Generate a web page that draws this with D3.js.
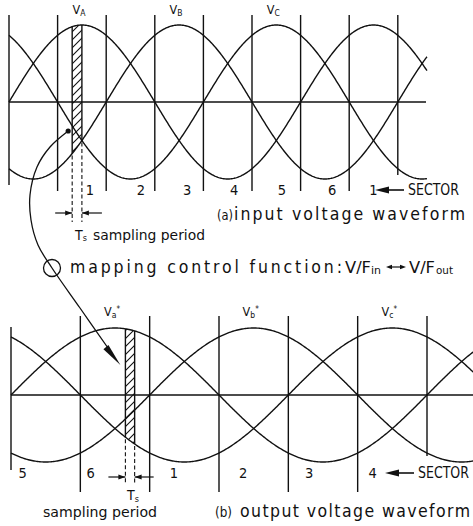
<!DOCTYPE html>
<html>
<head>
<meta charset="utf-8">
<script src="https://cdn.jsdelivr.net/npm/d3@7"></script>
<style>
  body { margin: 0; background: #fff; }
  svg { display: block; }
  text { font-family: "DejaVu Sans", sans-serif; font-stretch: condensed; fill: #111; }
</style>
</head>
<body>
<svg id="chart" width="473" height="526"></svg>
<script>
// ---- diagram data -------------------------------------------------------
// three-phase sets: label subscripts and phase lag in degrees
const inputPhases = ["A", "B", "C"];
const outputPhases = ["a", "b", "c"];
const phaseLag = [0, 120, 240];
// sector boundaries (electrical degrees)
const inputBoundaries = [0, 60, 120, 180, 240, 300, 360, 420, 480];
const outputBoundaries = [0, 60, 120, 180, 240, 300, 360];
// sector numbers and the angle where each sector starts
const inputSectors = ["1", "2", "3", "4", "5", "6", "1"];
const inputSectorStart = [60, 120, 180, 240, 300, 360, 420];
const outputSectors = ["5", "6", "1", "2", "3", "4"];
const outputSectorStart = [0, 60, 120, 180, 240, 300];
// sampling interval Ts on each waveform (degrees)
const inputSample = [78, 90];
const outputSample = [99, 107];
// visible angular span of each waveform
const inputSpan = [0, 516];
const outputSpan = [0, 406];

// ---- layout -------------------------------------------------------------
const svg = d3.select("#chart");
const ink = "#111";
const lw = 1.4;

const defs = svg.append("defs");
defs.append("pattern")
  .attr("id", "hatch")
  .attr("patternUnits", "userSpaceOnUse")
  .attr("width", 8).attr("height", 8)
  .append("path")
  .attr("d", "M-2,2 L2,-2 M0,8 L8,0 M6,10 L10,6")
  .attr("stroke", ink).attr("stroke-width", 1.1);

const phaseValue = (deg, lag) => Math.sin((deg - lag) * Math.PI / 180);

function arrowHead(g, tipX, tipY, dir, len, half) {
  // dir: +1 points right, -1 points left
  g.append("path")
    .attr("d", `M${tipX},${tipY} L${tipX - dir * len},${tipY - half} L${tipX - dir * len},${tipY + half} Z`)
    .attr("fill", ink);
}

function drawPanel(cfg) {
  const g = svg.append("g");
  const x = d3.scaleLinear().domain([0, 360]).range(cfg.xRange);
  const y = d3.scaleLinear().domain([-1, 1]).range(cfg.yRange);

  // zero axis
  g.append("line")
    .attr("x1", x(0)).attr("x2", cfg.axisEnd)
    .attr("y1", y(0)).attr("y2", y(0))
    .attr("stroke", ink).attr("stroke-width", lw);

  // sector boundaries
  cfg.boundaries.forEach((b, i) => {
    const ext = i === 0 ? cfg.firstExt : (i === cfg.boundaries.length - 1 ? cfg.lastExt : cfg.lineExt);
    g.append("line")
      .attr("x1", x(b)).attr("x2", x(b))
      .attr("y1", ext[0]).attr("y2", ext[1])
      .attr("stroke", ink).attr("stroke-width", lw);
  });

  // phase waveforms
  const angles = d3.range(cfg.span[0], cfg.span[1] + 0.001, 1);
  const line = d3.line().x(d => x(d[0])).y(d => y(d[1]));
  phaseLag.forEach(lag => {
    g.append("path")
      .attr("d", line(angles.map(a => [a, phaseValue(a, lag)])))
      .attr("fill", "none").attr("stroke", ink).attr("stroke-width", lw);
  });

  // hatched sample strip between upper and lower envelopes
  const sa = d3.range(cfg.sample[0], cfg.sample[1] + 0.001, 0.25);
  const hi = a => d3.max(phaseLag, l => phaseValue(a, l));
  const lo = a => d3.min(phaseLag, l => phaseValue(a, l));
  g.append("path")
    .attr("d", d3.area().x(a => x(a)).y0(a => y(lo(a))).y1(a => y(hi(a)))(sa))
    .attr("fill", "url(#hatch)");
  cfg.sample.forEach(a => {
    g.append("line")
      .attr("x1", x(a)).attr("x2", x(a))
      .attr("y1", y(hi(a))).attr("y2", y(lo(a)))
      .attr("stroke", ink).attr("stroke-width", lw);
    g.append("line")
      .attr("x1", x(a)).attr("x2", x(a))
      .attr("y1", y(lo(a)) + 2).attr("y2", cfg.dashEnd)
      .attr("stroke", ink).attr("stroke-width", 1.1)
      .attr("stroke-dasharray", "4,2.5");
  });

  // Ts dimension arrows
  const xa = x(cfg.sample[0]), xb = x(cfg.sample[1]);
  g.append("line").attr("x1", xa - 17).attr("x2", xa).attr("y1", cfg.arrowY).attr("y2", cfg.arrowY)
    .attr("stroke", ink).attr("stroke-width", 1.2);
  arrowHead(g, xa, cfg.arrowY, 1, 7, 2.5);
  g.append("line").attr("x1", xb + cfg.rightArrowLen).attr("x2", xb).attr("y1", cfg.arrowY).attr("y2", cfg.arrowY)
    .attr("stroke", ink).attr("stroke-width", 1.2);
  arrowHead(g, xb, cfg.arrowY, -1, 7, 2.5);

  // phase labels over each peak
  phaseLag.forEach((lag, i) => {
    const t = g.append("text")
      .attr("x", x(lag + 90) - 3).attr("y", cfg.labelY)
      .attr("text-anchor", "middle").attr("font-size", 12.5);
    t.append("tspan").text("V");
    t.append("tspan").attr("font-size", 8.5).attr("dy", 2).text(cfg.phases[i]);
    if (cfg.star) t.append("tspan").attr("font-size", 8).attr("dy", -6).text("*");
  });

  // sector numbers
  cfg.sectors.forEach((s, i) => {
    g.append("text")
      .attr("x", x(cfg.sectorStart[i] + cfg.sectorOffset[i]))
      .attr("y", cfg.sectorY)
      .attr("text-anchor", "middle").attr("font-size", 14.5)
      .text(s);
  });

  // "<- SECTOR" tag
  arrowHead(g, cfg.sectorArrow[0], cfg.sectorY - 5, -1, 14, 3.4);
  g.append("line")
    .attr("x1", cfg.sectorArrow[0] + 10).attr("x2", cfg.sectorArrow[1])
    .attr("y1", cfg.sectorY - 5).attr("y2", cfg.sectorY - 5)
    .attr("stroke", ink).attr("stroke-width", 1.6);
  g.append("text")
    .attr("x", cfg.sectorArrow[1] + 4).attr("y", cfg.sectorY)
    .attr("font-size", 15).attr("textLength", 51).attr("lengthAdjust", "spacingAndGlyphs")
    .text("SECTOR");

  return { x, y, hi, lo };
}

// (a) input waveform
const inputPanel = drawPanel({
  xRange: [9, 300.6], yRange: [179, 25], axisEnd: 426,
  boundaries: inputBoundaries, firstExt: [15, 185], lineExt: [15, 191], lastExt: [15, 175],
  span: inputSpan, sample: inputSample, dashEnd: 222, arrowY: 213, rightArrowLen: 20,
  phases: inputPhases, star: false, labelY: 14,
  sectors: inputSectors, sectorStart: inputSectorStart,
  sectorOffset: [40, 43, 40, 38, 37, 39, 30], sectorY: 195,
  sectorArrow: [375, 404]
});

// (b) output waveform
const outputPanel = drawPanel({
  xRange: [11, 427], yRange: [462, 328], axisEnd: 473,
  boundaries: outputBoundaries, firstExt: [327, 470], lineExt: [316, 492], lastExt: [316, 456],
  span: outputSpan, sample: outputSample, dashEnd: 483, arrowY: 477, rightArrowLen: 19,
  phases: outputPhases, star: true, labelY: 316,
  sectors: outputSectors, sectorStart: outputSectorStart,
  sectorOffset: [10, 9, 21, 21, 18, 13], sectorY: 478,
  sectorArrow: [385, 414]
});

// ---- captions -----------------------------------------------------------
function caption(xPos, yPos, size, str, len, adjust) {
  const t = svg.append("text").attr("x", xPos).attr("y", yPos).attr("font-size", size).text(str);
  if (len) t.attr("textLength", len).attr("lengthAdjust", adjust || "spacing");
  return t;
}

// Ts labels
const tsTop = svg.append("text").attr("x", 75).attr("y", 240).attr("font-size", 14);
tsTop.append("tspan").text("T");
tsTop.append("tspan").attr("font-size", 9).attr("dy", 1).text("s");
caption(93, 240, 14, "sampling period", 112, "spacingAndGlyphs");

const tsBot = svg.append("text").attr("x", 127).attr("y", 500).attr("font-size", 14);
tsBot.append("tspan").text("T");
tsBot.append("tspan").attr("font-size", 9).attr("dy", 2).text("s");
caption(43, 517, 14, "sampling period", 114, "spacingAndGlyphs");

caption(217, 220, 14, "(a)", 16, "spacingAndGlyphs");
caption(234, 220, 17.5, "input voltage waveform", 231);
caption(215, 517, 14, "(b)", 17, "spacingAndGlyphs");
caption(240, 517, 17.5, "output voltage waveform", 230);

// mapping line
svg.append("circle").attr("cx", 52).attr("cy", 268).attr("r", 8.5)
  .attr("fill", "none").attr("stroke", ink).attr("stroke-width", 1.3);
caption(70, 273, 17.5, "mapping control function:", 272);
caption(345, 273, 15, "V/F", 26, "spacingAndGlyphs");
caption(371, 274, 10, "in", 10, "spacingAndGlyphs");
svg.append("line").attr("x1", 389).attr("x2", 403).attr("y1", 267).attr("y2", 267)
  .attr("stroke", ink).attr("stroke-width", 1.2);
arrowHead(svg, 386, 267, -1, 6, 2.3);
arrowHead(svg, 406, 267, 1, 6, 2.3);
caption(409, 273, 15, "V/F", 26, "spacingAndGlyphs");
caption(436, 274, 10, "out", 17, "spacingAndGlyphs");

// mapping arrow: from a point in the input strip, through the circle, to the output strip
const startX = inputPanel.x(inputSample[0]) - 4;
const startY = inputPanel.y(0) + 29;
const route = [
  [startX, startY], [50, 147], [37, 167], [30, 195], [31, 220], [38, 245],
  [52, 268], [80, 308], [108, 348]
];
svg.append("circle").attr("cx", startX).attr("cy", startY).attr("r", 2.6).attr("fill", ink);
svg.append("path")
  .attr("d", d3.line().curve(d3.curveCatmullRom)(route))
  .attr("fill", "none").attr("stroke", ink).attr("stroke-width", 1.3);
// long slim arrowhead aimed at the output strip
(function () {
  const tip = [outputPanel.x(outputSample[0]) - 5, 365];
  const ang = Math.atan2(tip[1] - 346, tip[0] - 105);
  const len = 23, half = 3.2;
  const bx = tip[0] - len * Math.cos(ang), by = tip[1] - len * Math.sin(ang);
  const px = -Math.sin(ang) * half, py = Math.cos(ang) * half;
  svg.append("path")
    .attr("d", `M${tip[0]},${tip[1]} L${bx + px},${by + py} L${bx - px},${by - py} Z`)
    .attr("fill", ink);
})();
</script>
</body>
</html>
